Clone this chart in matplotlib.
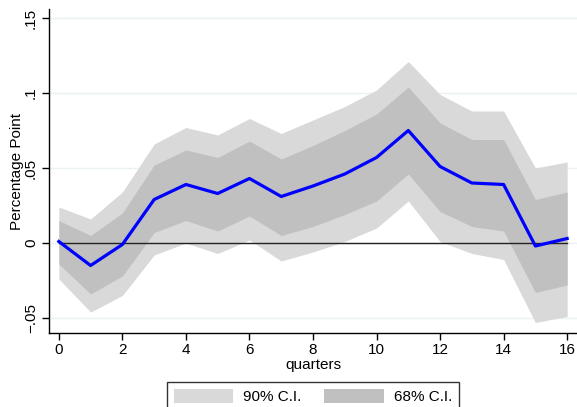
import matplotlib
matplotlib.use("Agg")
import matplotlib.pyplot as plt
from matplotlib.patches import Patch
import numpy as np

plt.rcParams['font.family'] = ['Liberation Sans', 'DejaVu Sans']

# impulse response and confidence bands
quarters = list(range(17))
irf = [0.001, -0.015, -0.001, 0.029, 0.039, 0.033, 0.043, 0.031, 0.038,
       0.046, 0.057, 0.075, 0.051, 0.040, 0.039, -0.002, 0.003]
up90 = [0.024, 0.016, 0.034, 0.066, 0.077, 0.072, 0.083, 0.073, 0.082,
        0.091, 0.102, 0.121, 0.099, 0.088, 0.088, 0.050, 0.054]
lo90 = [-0.024, -0.046, -0.035, -0.008, 0.000, -0.007, 0.002, -0.012, -0.006,
        0.001, 0.010, 0.028, 0.001, -0.007, -0.011, -0.053, -0.049]
up68 = [0.015, 0.005, 0.020, 0.052, 0.062, 0.057, 0.068, 0.056, 0.065,
        0.075, 0.086, 0.104, 0.080, 0.069, 0.069, 0.029, 0.034]
lo68 = [-0.014, -0.034, -0.022, 0.007, 0.015, 0.008, 0.018, 0.005, 0.011,
        0.019, 0.028, 0.046, 0.021, 0.011, 0.008, -0.033, -0.028]

yticks = [-0.05, 0, 0.05, 0.1, 0.15]
ytick_labels = ['\u2212.05', '0', '.05', '.1', '.15']
xticks = list(range(0, 17, 2))

LIGHT = '#d9d9d9'
DARK = '#c0c0c0'
FS = 11

fig = plt.figure(figsize=(5.77, 4.07), dpi=100)
ax = fig.add_axes([49 / 577, 74 / 407, 528 / 577, 324 / 407])

# grid
for y in yticks:
    ax.axhline(y, color='#eaf2f3', linewidth=1.0, zorder=0)

ax.fill_between(quarters, lo90, up90, color=LIGHT, linewidth=0, zorder=1)
ax.fill_between(quarters, lo68, up68, color=DARK, linewidth=0, zorder=2)
ax.plot([quarters[0], quarters[-1]], [0, 0], color='#222222', linewidth=1.0, zorder=3)
ax.plot(quarters, irf, color='#0000ff', linewidth=2.3, zorder=4)

ax.set_xlim(-0.31, 16.31)
ax.set_ylim(-0.06, 0.156)
ax.set_xticks(xticks)
ax.set_yticks(yticks)
ax.set_yticklabels(ytick_labels, rotation=90, va='center')
ax.tick_params(axis='both', direction='out', length=5, width=1, labelsize=FS,
               color='black')
ax.tick_params(axis='x', pad=2)
ax.tick_params(axis='y', pad=3)

for side in ['top', 'right']:
    ax.spines[side].set_visible(False)
for side in ['left', 'bottom']:
    ax.spines[side].set_linewidth(1.0)

ax.set_xlabel('quarters', fontsize=FS, labelpad=1)
ax.set_ylabel('Percentage Point', fontsize=FS, labelpad=0)

handles = [Patch(facecolor=LIGHT, edgecolor='none', label='90% C.I.'),
           Patch(facecolor=DARK, edgecolor='none', label='68% C.I.')]
leg = ax.legend(handles=handles, loc='upper center', bbox_to_anchor=(0.5, -0.151),
                ncol=2, frameon=True, fancybox=False, edgecolor='black',
                fontsize=FS, handlelength=3.9, handleheight=1.1,
                handletextpad=0.65, columnspacing=1.5, borderpad=0.45,
                borderaxespad=0)
leg.get_frame().set_linewidth(1.0)

fig.savefig('out.png', dpi=100)
